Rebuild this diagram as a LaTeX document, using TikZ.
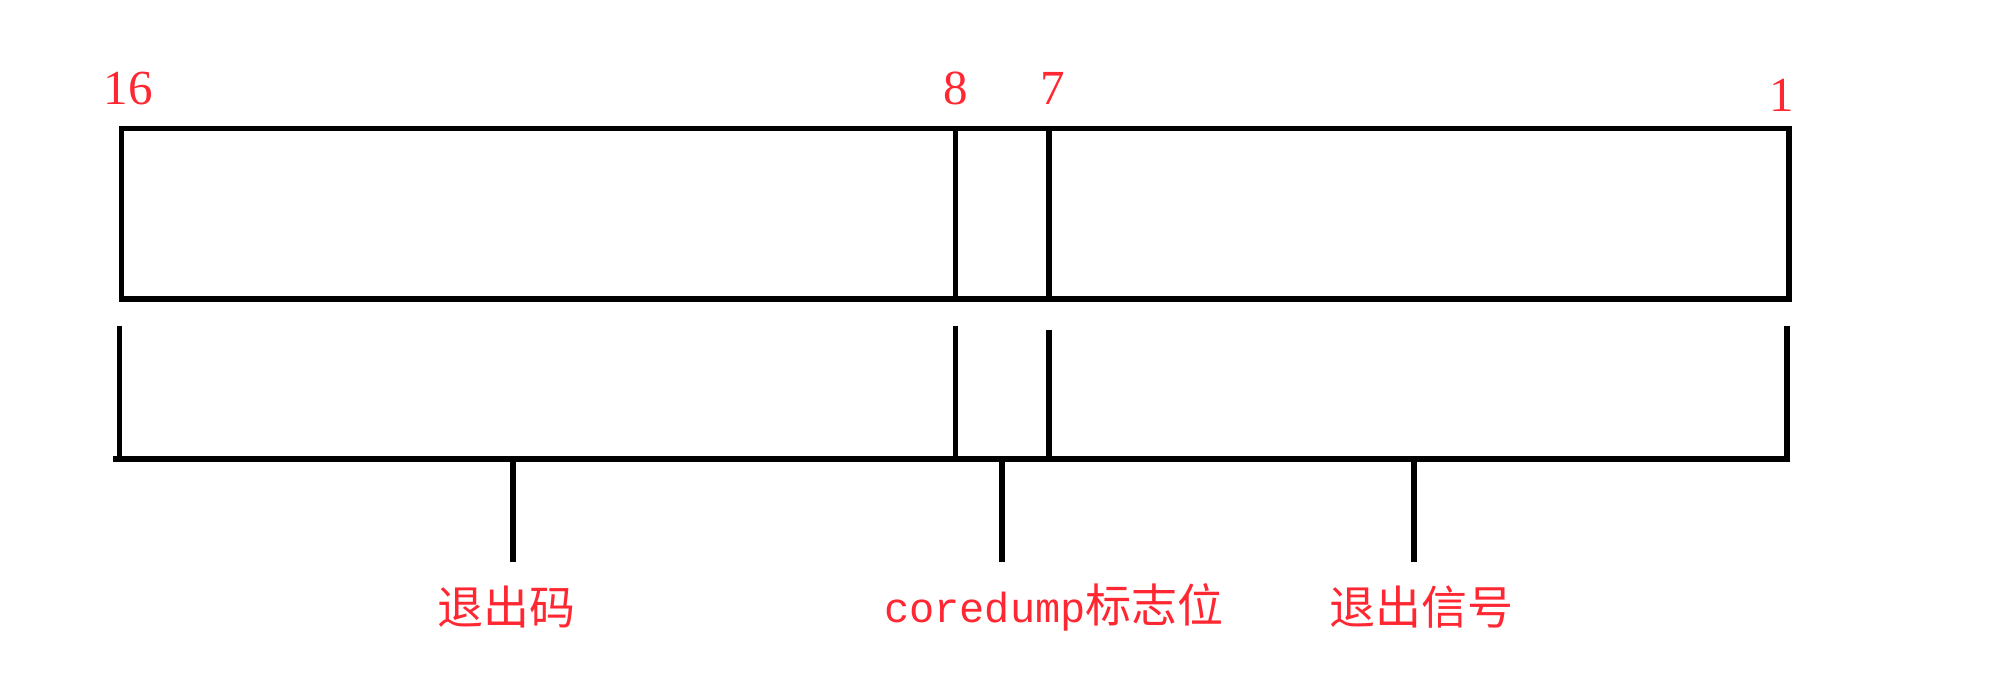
\documentclass[tikz,border=0pt]{standalone}
\usepackage{fontspec}
\newfontfamily\cjkfont{Noto Sans CJK SC}
\newfontfamily\numfont{Liberation Serif}
\newfontfamily\monofont{Liberation Mono}
\definecolor{labelred}{RGB}{255,40,50}
\begin{document}
\begin{tikzpicture}[x=1pt,y=-1pt,
  bar/.style={line width=5.5pt,black},
  numlabel/.style={text=labelred,font=\fontsize{49}{49}\numfont,inner sep=0pt,anchor=base},
  cnlabel/.style={text=labelred,font=\fontsize{46}{46}\cjkfont,inner sep=0pt,anchor=center}]
\useasboundingbox (0,0) rectangle (2004,700);
% register box
\coordinate (tl) at (121.5,128.5);
\coordinate (br) at (1789,299);
\draw[bar] (tl) rectangle (br);
\coordinate (t8) at (955.5,128.5); \coordinate (b8) at (955.5,299);
\coordinate (t7) at (1049,128.5); \coordinate (b7) at (1049,299);
\draw[bar] (t8) -- (b8);
\draw[bar] (t7) -- (b7);
% bracket
\coordinate (bl) at (113,459);
\coordinate (bre) at (1790,459);
\draw[bar] (bl) -- (bre);
\coordinate (l1) at (119.7,326); \coordinate (l2) at (119.7,459);
\coordinate (r1) at (1787,326); \coordinate (r2) at (1787,459);
\coordinate (m81) at (955.5,326); \coordinate (m82) at (955.5,459);
\coordinate (m71) at (1049,330); \coordinate (m72) at (1049,459);
\draw[bar] (l1) -- (l2);
\draw[bar] (r1) -- (r2);
\draw[bar] (m81) -- (m82);
\draw[bar] (m71) -- (m72);
% ticks
\coordinate (k1a) at (513,459); \coordinate (k1b) at (513,562);
\coordinate (k2a) at (1002,459); \coordinate (k2b) at (1002,562);
\coordinate (k3a) at (1414,459); \coordinate (k3b) at (1414,562);
\draw[bar] (k1a) -- (k1b);
\draw[bar] (k2a) -- (k2b);
\draw[bar] (k3a) -- (k3b);
% bit numbers
\node[numlabel] (n16) at (128,105) {16};
\node[numlabel] (n8) at (955.5,105) {8};
\node[numlabel] (n7) at (1053,105) {7};
\node[numlabel] (n1) at (1782,112) {1};
% labels
\node[cnlabel] (exitcode) at (506,607) {退出码};
\node[cnlabel] (coredump) at (1054,607) {{\fontsize{42}{42}\monofont coredump}标志位};
\node[cnlabel] (signal) at (1421,607) {退出信号};
\end{tikzpicture}
\end{document}
